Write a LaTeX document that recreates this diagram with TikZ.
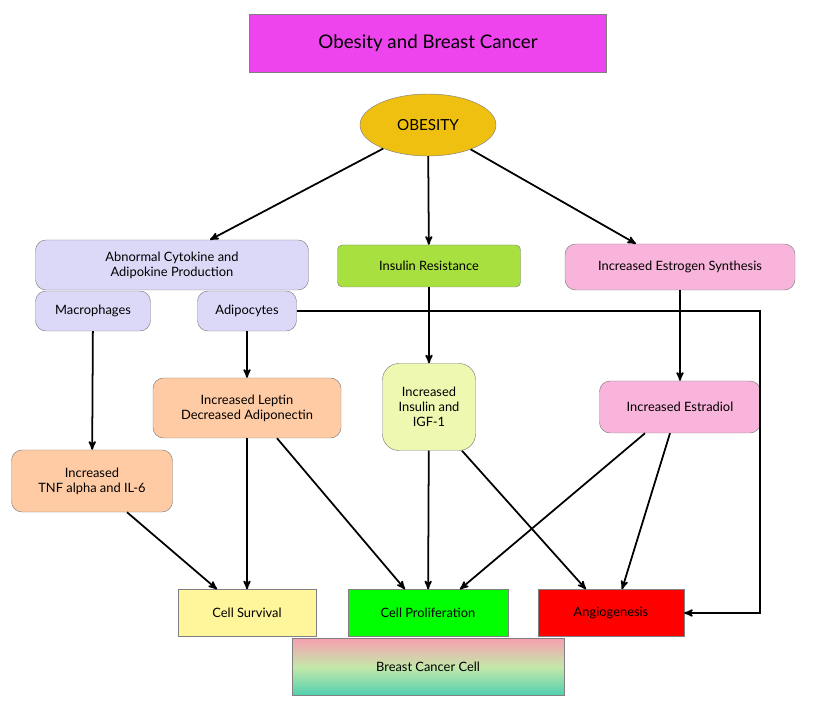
\documentclass[tikz,border=0pt]{standalone}
\usepackage{fontspec}
\setmainfont{Lato}
\usetikzlibrary{positioning, arrows, shapes.geometric}
\definecolor{lav}{HTML}{DCD8F8}
\definecolor{peach}{HTML}{FFCBA4}
\definecolor{pinky}{HTML}{F8B4DA}
\tikzset{
    every edge/.style={
        draw,
        ->,>=stealth',
        line width=1.5pt
    },
    box/.style={draw=gray, rounded corners=9pt, align=center, inner sep=2pt},
    sbox/.style={draw=gray, align=center, inner sep=2pt}
}

\begin{document}
\begin{tikzpicture}[x=0.03cm,y=-0.03cm,font=\fontsize{11}{13}\selectfont]
	\useasboundingbox (0,0) rectangle (829,707);
	\node[sbox,fill={rgb,255:red,238;green,68;blue,238},minimum width=357*0.03cm,minimum height=58*0.03cm,font=\fontsize{16}{18}\selectfont] at (428,43) (title) {Obesity and Breast Cancer};
	\node[ellipse,draw=gray,fill={rgb,255:red,240;green,192;blue,16},minimum width=136*0.03cm,minimum height=62*0.03cm,font=\fontsize{13}{15}\selectfont] at (428,125) (ob) {OBESITY};
	\node[box,fill=lav,minimum width=273*0.03cm,minimum height=50*0.03cm] at (172,265) (cyto) {Abnormal Cytokine and\\Adipokine Production};
	\node[box,fill=lav,minimum width=115*0.03cm,minimum height=40*0.03cm] at (93,311) (macro) {Macrophages};
	\node[box,fill=lav,minimum width=99*0.03cm,minimum height=40*0.03cm] at (247,311) (adipo) {Adipocytes};
	\node[box,fill={rgb,255:red,168;green,224;blue,64},rounded corners=4pt,minimum width=183*0.03cm,minimum height=42*0.03cm] at (429,266) (insres) {Insulin Resistance};
	\node[box,fill=pinky,minimum width=230*0.03cm,minimum height=46*0.03cm] at (680,267) (estro) {Increased Estrogen Synthesis};
	\node[box,fill=peach,minimum width=188*0.03cm,minimum height=60*0.03cm] at (247,408) (leptin) {Increased Leptin\\Decreased Adiponectin};
	\node[box,fill={rgb,255:red,238;green,248;blue,176},rounded corners=14pt,minimum width=93*0.03cm,minimum height=87*0.03cm] at (429,407) (igf) {Increased\\Insulin and\\IGF-1};
	\node[box,fill=pinky,minimum width=161*0.03cm,minimum height=52*0.03cm] at (680,407) (estra) {Increased Estradiol};
	\node[box,fill=peach,minimum width=161*0.03cm,minimum height=62*0.03cm] at (92,481) (tnf) {Increased\\TNF alpha and IL-6};
	\node[sbox,fill={rgb,255:red,255;green,245;blue,154},minimum width=138*0.03cm,minimum height=47*0.03cm] at (247,613) (surv) {Cell Survival};
	\node[sbox,fill={rgb,255:red,0;green,255;blue,0},minimum width=160*0.03cm,minimum height=47*0.03cm] at (428,613) (prol) {Cell Proliferation};
	\node[sbox,fill=red,minimum width=146*0.03cm,minimum height=47*0.03cm] at (611,613) (angio) {Angiogenesis};
	\node[sbox,top color={rgb,255:red,246;green,160;blue,176},bottom color={rgb,255:red,80;green,208;blue,176},middle color={rgb,255:red,196;green,232;blue,170},minimum width=272*0.03cm,minimum height=57*0.03cm] at (428,667) (cell) {Breast Cancer Cell};
	\coordinate (c1) at (760,311);
	\coordinate (c2) at (760,613);
	\draw
	(ob) edge (cyto.north -| 210,0)
	(ob) edge (insres)
	(ob) edge (estro.north -| 636,0)
	(macro) edge (tnf)
	(adipo) edge (leptin)
	(insres) edge (igf)
	(estro) edge (estra)
	(tnf.south -| 127,0) edge (surv.north -| 217,0)
	(leptin) edge (surv)
	(leptin.south -| 277,0) edge (prol.north -| 405,0)
	(igf) edge (prol)
	(igf.south -| 462,0) edge (angio.north -| 586,0)
	(estra.south -| 645,0) edge (prol.north -| 460,0)
	(estra.south -| 670,0) edge (angio.north -| 622,0);
	\draw[line width=1.5pt,->,>=stealth'] (adipo) -- (c1) -- (c2) -- (angio);
\end{tikzpicture}
\end{document}
